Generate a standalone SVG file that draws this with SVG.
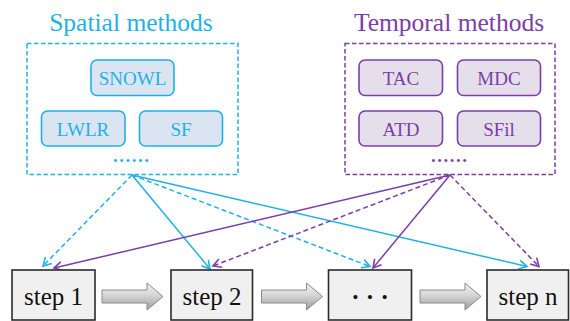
<svg xmlns="http://www.w3.org/2000/svg" width="570" height="321" viewBox="0 0 570 321">
<defs>
<marker id="ac" markerUnits="userSpaceOnUse" markerWidth="12" markerHeight="12" refX="10" refY="6" orient="auto">
<path d="M2,1.5 L10,6 L2,10.5" fill="none" stroke="#1fb1e6" stroke-width="1.6"/>
</marker>
<marker id="ap" markerUnits="userSpaceOnUse" markerWidth="12" markerHeight="12" refX="10" refY="6" orient="auto">
<path d="M2,1.5 L10,6 L2,10.5" fill="none" stroke="#7b3ea6" stroke-width="1.6"/>
</marker>
<linearGradient id="g" x1="0" y1="0" x2="0" y2="1">
<stop offset="0" stop-color="#f2f2f2"/>
<stop offset="0.45" stop-color="#d6d6d6"/>
<stop offset="1" stop-color="#9c9c9c"/>
</linearGradient>
<polygon id="blk" points="0,-6.5 45,-6.5 45,-13.5 61,0 45,13.5 45,6.5 0,6.5" fill="url(#g)" stroke="#8a8a8a" stroke-width="1"/>
</defs>
<style>
text{font-family:'Liberation Serif','Times New Roman','DejaVu Serif',serif}
.title{font-size:25.5px;text-anchor:middle}
.m{font-size:19px;text-anchor:middle}
.dots{font-size:25px;text-anchor:middle}
.grp{fill:none;stroke-width:1.5;stroke-dasharray:4.5 2.5}
.sb{fill:#dbe5f1;stroke:#1fb1e6;stroke-width:1.6}
.tb{fill:#e5dfec;stroke:#7b3ea6;stroke-width:1.6}
.step{fill:#f0f0f0;stroke:#2b2b2b;stroke-width:1.6}
.st{font-size:25px;text-anchor:middle;fill:#111}
.c{stroke:#1fb1e6;stroke-width:1.5;fill:none;marker-end:url(#ac)}
.p{stroke:#7b3ea6;stroke-width:1.5;fill:none;marker-end:url(#ap)}
.d{stroke-dasharray:5 3}
</style>
<g id="spatial">
<text class="title" x="131" y="31" fill="#1fb1e6" font-family="Liberation Serif, serif">Spatial methods</text>
<rect class="grp" x="27" y="43.5" width="211" height="131" stroke="#1fb1e6"/>
</g>
<g id="snowl"><rect class="sb" x="91" y="60" width="83" height="35.5" rx="6"/><text class="m" x="132.5" y="85" fill="#1fb1e6">SNOWL</text></g>
<g id="lwlr"><rect class="sb" x="41.5" y="111" width="83.5" height="35" rx="6"/><text class="m" x="83" y="136" fill="#1fb1e6">LWLR</text></g>
<g id="sf"><rect class="sb" x="139.5" y="111" width="83" height="35" rx="6"/><text class="m" x="181" y="136" fill="#1fb1e6">SF</text></g>
<text class="dots" x="131" y="162" fill="#1fb1e6">......</text>
<g id="temporal">
<text class="title" x="449" y="31" fill="#7b3ea6">Temporal methods</text>
<rect class="grp" x="345" y="43.5" width="210" height="131" stroke="#7b3ea6"/>
</g>
<g id="tac"><rect class="tb" x="359" y="60" width="83.5" height="35.5" rx="6"/><text class="m" x="401" y="85" fill="#7b3ea6">TAC</text></g>
<g id="mdc"><rect class="tb" x="457.5" y="60" width="83" height="35.5" rx="6"/><text class="m" x="499" y="85" fill="#7b3ea6">MDC</text></g>
<g id="atd"><rect class="tb" x="359" y="111" width="83.5" height="35" rx="6"/><text class="m" x="401" y="136" fill="#7b3ea6">ATD</text></g>
<g id="sfil"><rect class="tb" x="457.5" y="111" width="83" height="35" rx="6"/><text class="m" x="499" y="136" fill="#7b3ea6">SFil</text></g>
<text class="dots" x="449" y="162" fill="#7b3ea6">......</text>
<g id="connectors">
<line class="c d" x1="132" y1="175" x2="43" y2="266"/>
<line class="c" x1="132" y1="175" x2="210" y2="269"/>
<line class="c d" x1="132" y1="175" x2="370" y2="266.5"/>
<line class="c" x1="132" y1="175" x2="527" y2="266.5"/>
<line class="p" x1="450" y1="175" x2="54" y2="268"/>
<line class="p d" x1="450" y1="175" x2="213" y2="266"/>
<line class="p" x1="450" y1="175" x2="373" y2="268"/>
<line class="p d" x1="450" y1="175" x2="539" y2="266.5"/>
<use href="#blk" x="102" y="296.5"/>
<use href="#blk" x="261.5" y="296.5"/>
<use href="#blk" x="420" y="296.5"/>
</g>
<g id="step1"><rect class="step" x="12" y="270" width="83" height="50"/><text class="st" x="53.5" y="305">step 1</text></g>
<g id="step2"><rect class="step" x="171" y="270" width="81.5" height="50"/><text class="st" x="212" y="305">step 2</text></g>
<g id="stepdots"><rect class="step" x="328.5" y="270" width="83" height="50"/><text class="st" x="370" y="305" font-weight="bold">· · ·</text></g>
<g id="stepn"><rect class="step" x="487" y="270" width="81.5" height="50"/><text class="st" x="528" y="305">step n</text></g>
</svg>
